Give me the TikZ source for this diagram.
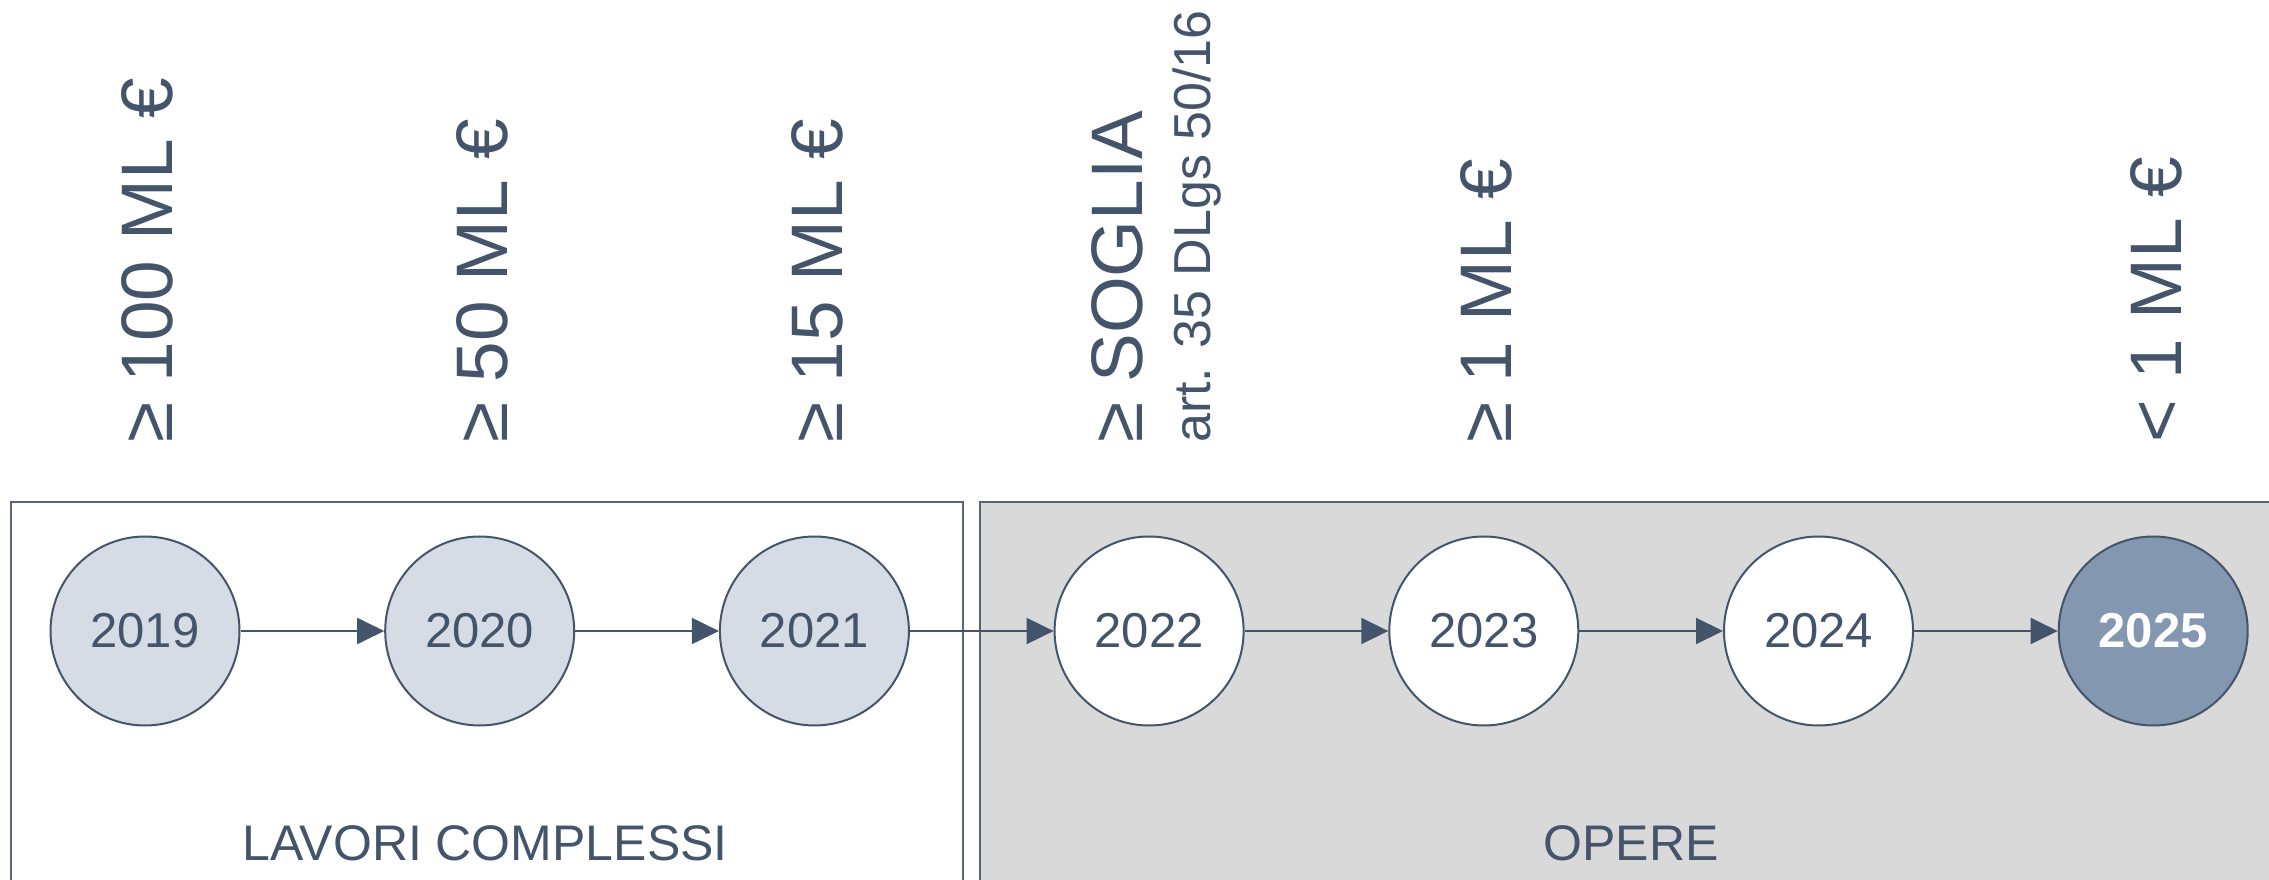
\documentclass[tikz,border=0pt]{standalone}
\usepackage{fontspec}
\setmainfont{Liberation Sans}
\usepackage{xcolor}
\usepackage{tikz}
\usetikzlibrary{positioning,arrows.meta}

\definecolor{slate}{HTML}{44546A}
\definecolor{paleblue}{HTML}{D6DCE5}
\definecolor{midblue}{HTML}{8497B0}
\definecolor{boxgray}{HTML}{D9D9D9}

\begin{document}
\begin{tikzpicture}[
        x=1pt, y=1pt,
        node distance=143.7pt,
        every node/.style={text=slate},
        year/.style={circle, draw=slate, line width=2pt, minimum size=189pt, inner sep=0pt, font=\fontsize{49}{49}\selectfont},
        past/.style={fill=paleblue},
        future/.style={fill=white},
        current/.style={fill=midblue, text=white, font=\fontsize{49}{49}\selectfont\bfseries},
        limit/.style={rotate=90, anchor=base west, inner sep=0pt, font=\fontsize{73}{73}\selectfont},
        group/.style={anchor=base, inner sep=0pt, font=\fontsize{50}{50}\selectfont},
        link/.style={-{Triangle[length=27pt,width=26pt]}, line width=2pt, draw=slate}
    ]
        \useasboundingbox (0,0) rectangle (2269,879);
        \clip (0,0) rectangle (2269,879);
        \draw[slate!90, line width=1.5pt] (11,-10) rectangle (963,377);
        \draw[slate!90, fill=boxgray, line width=1.5pt] (980,-10) rectangle (2290,377);

        \node[year, past] (y2019) at (145,248) {2019};
        \node[year, past, right=of y2019] (y2020) {2020};
        \node[year, past, right=of y2020] (y2021) {2021};
        \node[year, future, right=of y2021] (y2022) {2022};
        \node[year, future, right=of y2022] (y2023) {2023};
        \node[year, future, right=of y2023] (y2024) {2024};
        \node[year, current, right=of y2024] (y2025) {2025};

        \draw[link] (y2019) -- (y2020);
        \draw[link] (y2020) -- (y2021);
        \draw[link] (y2021) -- (y2022);
        \draw[link] (y2022) -- (y2023);
        \draw[link] (y2023) -- (y2024);
        \draw[link] (y2024) -- (y2025);

        \node[limit] (l100) at (172,436) {≥ 100 ML €};
        \node[limit] (l50) at (507,436) {≥ 50 ML €};
        \node[limit] (l15) at (842,436) {≥ 15 ML €};
        \node[limit] (soglia) at (1142,436) {≥ SOGLIA};
        \node[limit, font=\fontsize{52}{52}\selectfont] (art) at (1210,436) {art. 35 DLgs 50/16};
        \node[limit] (l1) at (1511,436) {≥ 1 ML €};
        \node[limit] (lt1) at (2181,436) {< 1 ML €};

        \node[group] (lavori) at (485,19) {LAVORI COMPLESSI};
        \node[group] (opere) at (1631,19) {OPERE};
    \end{tikzpicture}
\end{document}
